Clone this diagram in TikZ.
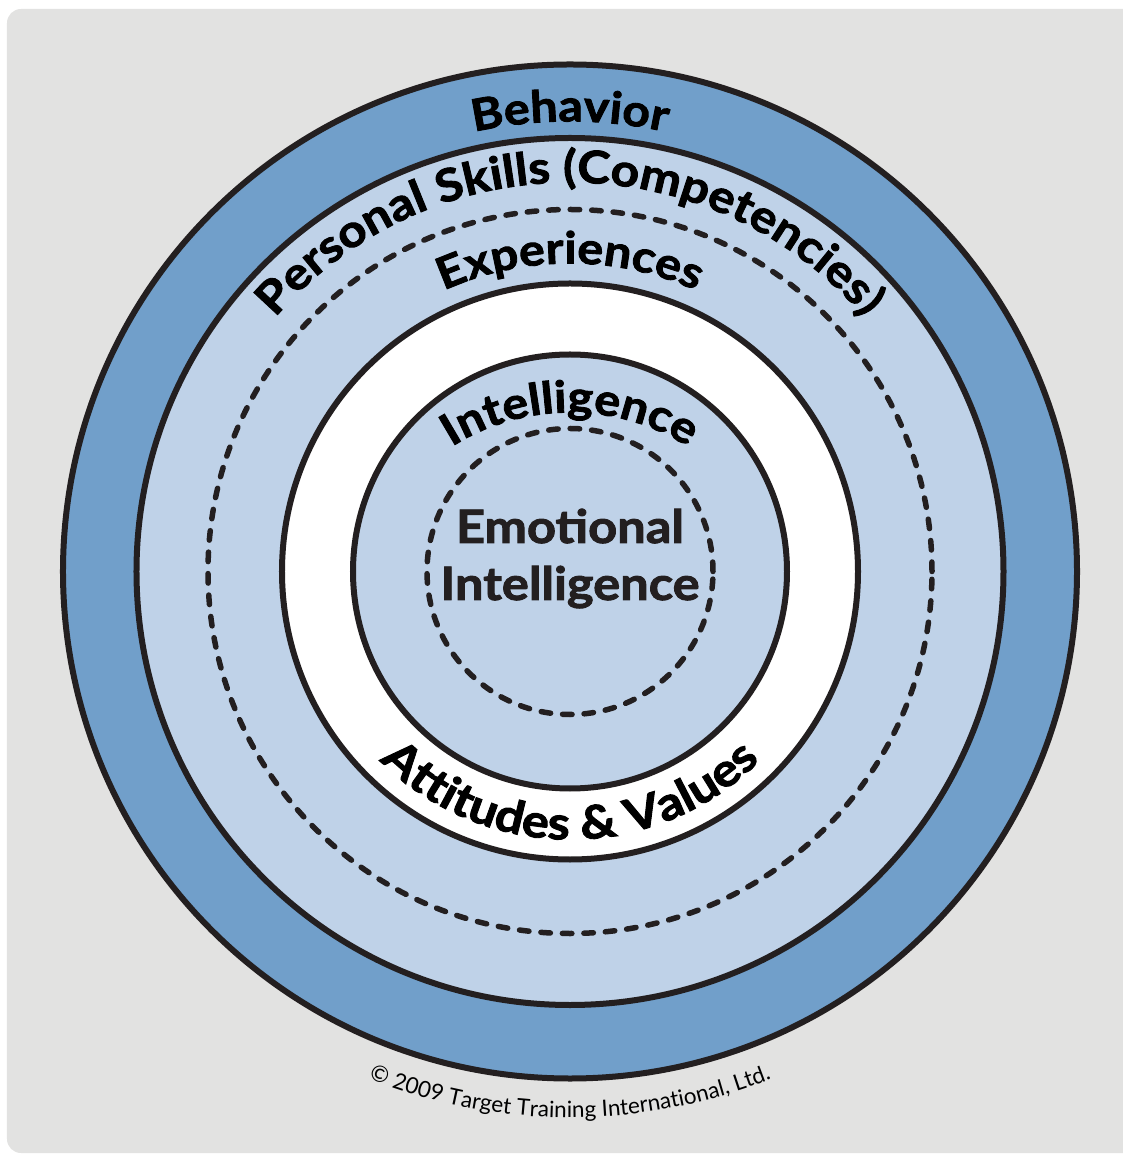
\documentclass[tikz,border=0pt]{standalone}
\usepackage{fontspec}
\setmainfont{Lato}[BoldFeatures={FakeBold=2, FakeStretch=1.10}]
\usepackage{xcolor}
\usepackage{tikz}
\usetikzlibrary{decorations.text}

\definecolor{paper}{HTML}{E2E2E1}
\definecolor{ringDark}{HTML}{719FCA}
\definecolor{ringLight}{HTML}{BFD2E8}
\definecolor{ink}{HTML}{231F20}

\newcommand{\ringfont}{\fontsize{44}{50}\selectfont\bfseries}
\newcommand{\wideringfont}{\fontsize{45}{50}\selectfont\bfseries}
\newcommand{\bigringfont}{\fontsize{46}{52}\selectfont\bfseries}
\newcommand{\copyfont}{\fontsize{22.5}{26}\selectfont}

\tikzstyle{ring} = [draw=ink, line width=6pt]
\tikzstyle{dashring} = [draw=ink, line width=5.5pt, line cap=round, dash pattern=on 9.5pt off 12pt]
\tikzstyle{centerLabel} = [text=ink, font=\bigringfont, inner sep=0pt, anchor=base]
\tikzset{arcLabel/.style={color=ink, decorate, decoration={text along path, text align=center, text={#1}}}}

\begin{document}
\begin{tikzpicture}[x=1pt, y=1pt]
    \useasboundingbox (-570,-583.5) rectangle (552,571.5);
    % Background card
    \fill[paper, rounded corners=14pt] (-563,-581.5) rectangle (580,562.5);

    % Fill rings
    \fill[ringDark] (0,0) circle[radius=507pt];
    \fill[ringLight] (0,0) circle[radius=433.5pt];
    \fill[white] (0,0) circle[radius=288pt];
    \fill[ringLight] (0,0) circle[radius=217pt];

    % Draw ring borders
    \draw[ring] (0,0) circle[radius=507pt];
    \draw[ring] (0,0) circle[radius=433.5pt];
    \draw[dashring] (0,0) circle[radius=362pt];
    \draw[ring] (0,0) circle[radius=288pt];
    \draw[ring] (0,0) circle[radius=217pt];
    \draw[dashring] (0,0) circle[radius=143pt];

    % Place ring labels
    \path[arcLabel={|\ringfont|Behavior}] (160:450pt) arc[start angle=160, end angle=20, radius=450pt];
    \path[arcLabel={|\wideringfont|Personal Skills (Competencies)}] (178:389pt) arc[start angle=178, end angle=2, radius=389pt];
    \path[arcLabel={|\ringfont|Experiences}] (160:308pt) arc[start angle=160, end angle=20, radius=308pt];
    \path[arcLabel={|\ringfont|Intelligence}, shift={(0,-62)}] (160:221pt) arc[start angle=160, end angle=20, radius=221pt];
    \path[arcLabel={|\bigringfont|Attitudes {\&} Values}] (200:268pt) arc[start angle=200, end angle=340, radius=268pt];
    \path[arcLabel={|\copyfont|© 2009 Target Training International, Ltd.}] (215:546pt) arc[start angle=215, end angle=325, radius=546pt];

    % Centre label
    \node[centerLabel] (emotional) at (0,28.5) {Emotional};
    \node[centerLabel] (intelligence) at (0,-28.5) {Intelligence};
\end{tikzpicture}
\end{document}
